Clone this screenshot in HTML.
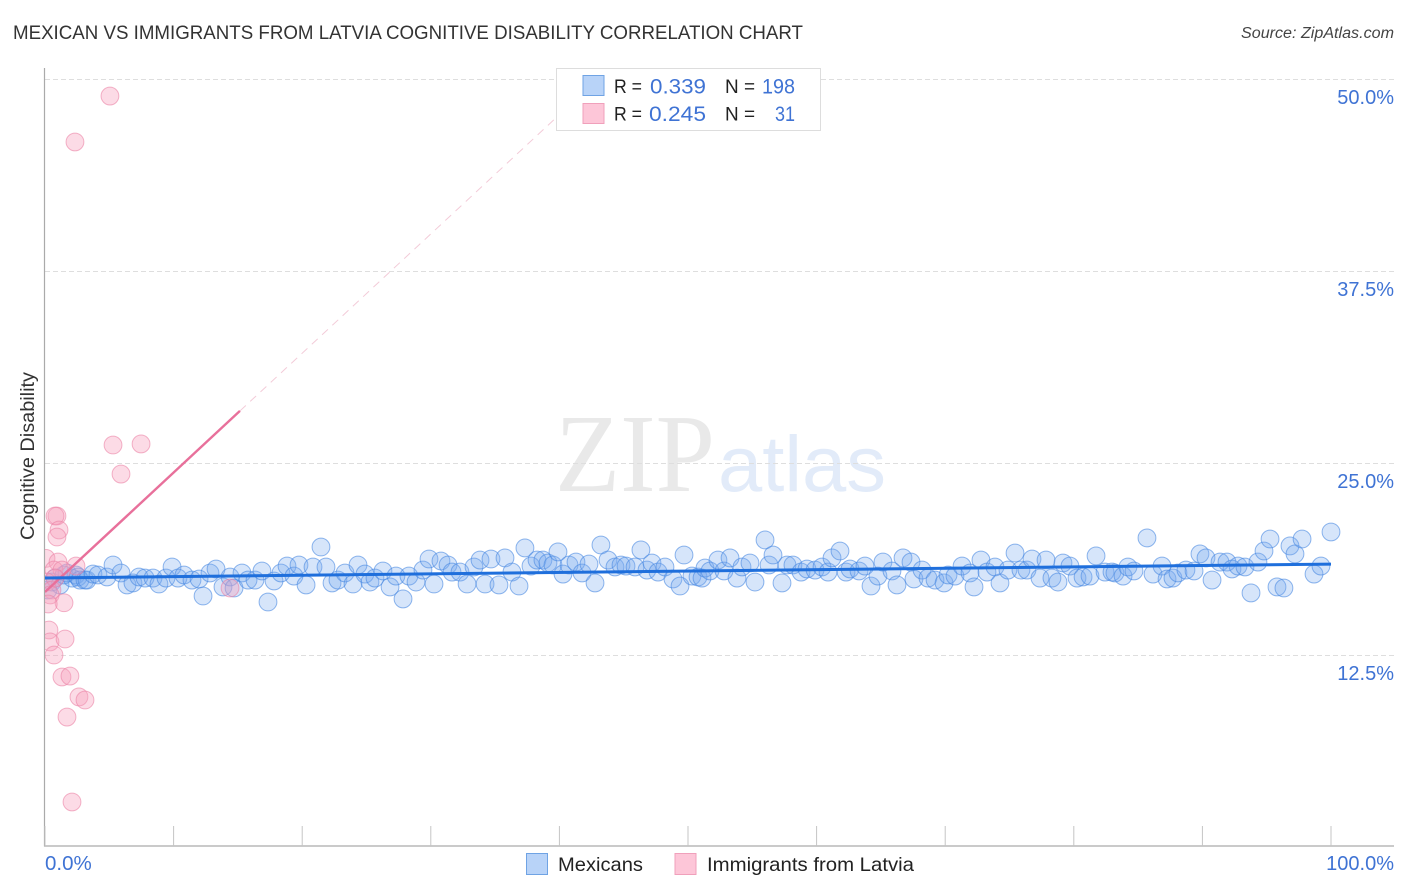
<!DOCTYPE html>
<html lang="en">
<head>
<meta charset="utf-8">
<title>Mexican vs Immigrants from Latvia Cognitive Disability Correlation Chart</title>
<style>
html,body{margin:0;padding:0;background:#fff;width:1406px;height:892px;overflow:hidden}
svg{display:block;font-family:"Liberation Sans",sans-serif}
</style>
</head>
<body>
<svg id="chart" width="1406" height="892" viewBox="0 0 1406 892" xmlns="http://www.w3.org/2000/svg">
  <defs>
    <clipPath id="plot-clip"><rect x="45" y="60" width="1350" height="786"/></clipPath>
  </defs>
  <rect width="1406" height="892" fill="#ffffff"/>
  <text x="13" y="39" font-size="19.5" fill="#333333" textLength="790" lengthAdjust="spacingAndGlyphs">MEXICAN VS IMMIGRANTS FROM LATVIA COGNITIVE DISABILITY CORRELATION CHART</text>
  <text x="1241" y="38" font-size="15.5" font-style="italic" fill="#444444" textLength="153" lengthAdjust="spacingAndGlyphs">Source: ZipAtlas.com</text>
  <text x="555" y="491" font-family="'Liberation Serif',serif" font-size="111" fill="#e9e9e9" textLength="160" lengthAdjust="spacingAndGlyphs">ZIP</text>
  <text x="718" y="491" font-size="79" fill="#e2ebf9" textLength="168" lengthAdjust="spacingAndGlyphs">atlas</text>
  <g id="grid"></g>
  <g id="axes"></g>
  <g clip-path="url(#plot-clip)">
    <g id="blue-points"></g>
    <g id="pink-points"></g>
    <g id="trends"></g>
  </g>
  <text x="-540" y="34" transform="rotate(-90)" font-size="19" fill="#333333" textLength="168" lengthAdjust="spacingAndGlyphs">Cognitive Disability</text>
  <g>
    <rect x="556.5" y="68.5" width="264" height="62" fill="#ffffff" stroke="#dddddd" stroke-width="1"/>
    <rect x="583" y="75.5" width="21" height="20" fill="#b8d3f8" stroke="#6fa3e4" stroke-width="1"/>
    <rect x="583" y="103.5" width="21" height="20" fill="#fdc6d8" stroke="#f0a0bb" stroke-width="1"/>
    <text x="614" y="93" font-size="19.5" fill="#222222" textLength="28" lengthAdjust="spacingAndGlyphs">R =</text>
    <text x="650" y="93.5" font-size="21.5" fill="#3f73d4" textLength="56" lengthAdjust="spacingAndGlyphs">0.339</text>
    <text x="725" y="93" font-size="19.5" fill="#222222" textLength="30" lengthAdjust="spacingAndGlyphs">N =</text>
    <text x="762" y="93.5" font-size="21.5" fill="#3f73d4" textLength="33" lengthAdjust="spacingAndGlyphs">198</text>
    <text x="614" y="120.5" font-size="19.5" fill="#222222" textLength="28" lengthAdjust="spacingAndGlyphs">R =</text>
    <text x="649" y="121" font-size="21.5" fill="#3f73d4" textLength="57" lengthAdjust="spacingAndGlyphs">0.245</text>
    <text x="725" y="120.5" font-size="19.5" fill="#222222" textLength="30" lengthAdjust="spacingAndGlyphs">N =</text>
    <text x="775" y="121" font-size="21.5" fill="#3f73d4" textLength="20" lengthAdjust="spacingAndGlyphs">31</text>
  </g>
  <g>
    <rect x="526.5" y="853.5" width="21" height="21" fill="#b8d3f8" stroke="#6fa3e4" stroke-width="1"/>
    <text x="558" y="871" font-size="19.5" fill="#222222" textLength="85" lengthAdjust="spacingAndGlyphs">Mexicans</text>
    <rect x="675" y="853.5" width="21" height="21" fill="#fdc6d8" stroke="#f0a0bb" stroke-width="1"/>
    <text x="707" y="871" font-size="19.5" fill="#222222" textLength="207" lengthAdjust="spacingAndGlyphs">Immigrants from Latvia</text>
  </g>
</svg>
<script>
const yTickValues = [12.5, 25, 37.5, 50];
const yTickLabels = ["12.5%", "25.0%", "37.5%", "50.0%"];
const xTickValues = [0, 10, 20, 30, 40, 50, 60, 70, 80, 90, 100];
const xEndLabels = ["0.0%", "100.0%"];

const mexicansX = [0.23,0.54,0.78,1.17,1.48,1.71,2.10,2.41,2.57,2.72,3.11,3.27,3.73,4.12,4.82,5.29,5.91,6.38,6.84,7.31,7.78,8.40,8.86,9.41,9.88,10.34,10.81,11.43,11.98,12.29,12.83,13.30,13.84,14.39,14.70,15.32,15.79,16.33,16.87,17.34,17.81,18.35,18.82,19.36,19.75,20.30,20.84,21.46,21.85,22.32,22.78,23.33,23.95,24.34,24.88,25.27,25.66,26.28,26.83,27.29,27.84,28.30,28.85,29.39,29.86,30.25,30.79,31.34,31.65,32.27,32.82,33.36,33.83,34.22,34.68,35.30,35.77,36.31,36.86,37.32,37.79,38.26,38.72,39.11,39.50,39.89,40.28,40.75,41.29,41.76,42.30,42.77,43.23,43.78,44.32,44.79,45.18,45.88,46.34,46.81,47.20,47.67,48.21,48.83,49.38,49.69,50.31,50.78,51.09,51.32,51.71,52.33,52.80,53.27,53.81,54.20,54.82,55.21,55.99,56.30,56.61,57.31,57.70,58.16,58.79,59.25,59.88,60.42,60.89,61.20,61.82,62.29,62.60,63.30,63.76,64.23,64.77,65.16,65.86,66.25,66.72,67.34,67.57,68.20,68.66,69.21,69.91,70.22,70.76,71.31,71.93,72.24,72.78,73.25,73.87,74.26,74.88,75.43,75.89,76.36,76.75,77.37,77.84,78.30,78.77,79.16,79.70,80.25,80.72,81.26,81.73,82.43,82.97,83.20,83.83,84.21,84.68,85.69,86.16,86.86,87.25,87.71,88.10,88.72,89.35,89.81,90.28,90.75,91.37,91.91,92.30,92.77,93.31,93.78,94.32,94.79,95.26,95.80,96.34,96.81,97.20,97.75,98.68,99.22,100];
const mexicansY = [16.73,17.25,17.51,17.06,17.71,17.84,17.51,17.71,17.58,17.38,17.38,17.38,17.77,17.71,17.58,18.36,17.84,17.06,17.19,17.58,17.51,17.51,17.12,17.51,18.23,17.51,17.71,17.38,17.45,16.34,17.84,18.10,16.93,17.58,16.86,17.84,17.38,17.38,17.97,15.95,17.32,17.84,18.29,17.64,18.36,17.06,18.23,19.53,18.23,17.19,17.38,17.84,17.12,18.36,17.77,17.25,17.51,17.97,16.93,17.64,16.15,17.64,17.25,18.03,18.75,17.12,18.62,18.36,17.90,17.90,17.12,18.23,18.68,17.12,18.75,17.06,18.82,17.90,16.99,19.47,18.29,18.68,18.68,18.49,18.36,19.21,17.77,18.36,18.55,17.84,18.42,17.19,19.66,18.68,18.23,18.36,18.29,18.23,19.34,18.03,18.49,17.90,18.23,17.45,16.99,19.01,17.64,17.58,17.51,18.16,17.97,18.68,17.97,18.82,17.51,18.23,18.49,17.25,19.99,18.36,19.01,17.19,18.36,18.36,17.90,18.10,18.03,18.23,17.90,18.82,19.27,17.90,18.10,17.97,18.29,16.99,17.64,18.55,17.97,17.06,18.82,18.55,17.45,18.03,17.51,17.38,17.19,17.71,17.64,18.29,17.84,16.93,18.68,17.90,18.23,17.19,18.03,19.14,18.03,18.03,18.75,17.51,18.68,17.51,17.25,18.49,18.29,17.51,17.58,17.64,18.95,17.90,17.90,17.84,17.64,18.23,17.97,20.12,17.77,18.29,17.45,17.51,17.84,18.03,17.97,19.08,18.82,17.38,18.55,18.55,18.10,18.29,18.23,16.54,18.55,19.27,20.05,16.93,16.86,19.60,19.08,20.05,17.77,18.29,20.51];

const latviaX = [5.05,2.33,5.29,7.47,5.91,0.93,0.78,1.09,0.93,0.08,1.01,0.70,2.41,1.32,0.78,0.15,0.54,0.40,1.48,0.25,0.31,0.39,1.56,0.70,1.32,1.94,2.64,3.11,1.71,2.10,14.39];
const latviaY = [48.89,45.90,26.17,26.24,24.28,21.55,21.55,20.64,20.18,18.79,18.55,18.03,18.29,18.03,17.51,17.25,16.73,16.41,15.90,15.82,14.13,13.35,13.54,12.50,11.07,11.13,9.77,9.57,8.46,2.93,16.86];

const mexicansTrendX = [0, 100];
const mexicansTrendY = [17.51, 18.42];
const latviaSolidX = [0, 15.16];
const latviaSolidY = [16.60, 28.39];
const latviaDashX = [15.16, 42.4];
const latviaDashY = [28.39, 49.54];

const NS = "http://www.w3.org/2000/svg";
function xScale(v) { return 45 + v * 12.86; }
function yScale(v) { return 847 - v * 15.36; }
function make(tag, attrs, parentId) {
  const el = document.createElementNS(NS, tag);
  for (const k in attrs) el.setAttribute(k, attrs[k]);
  document.getElementById(parentId).appendChild(el);
  return el;
}

yTickValues.forEach(function (v, i) {
  const line = make("line", {x1: 45, x2: 1394, y1: yScale(v) + 0.5, y2: yScale(v) + 0.5, stroke: "#dedede", "stroke-width": 1, "stroke-dasharray": "5 3"}, "grid");
  
  
  const label = make("text", {x: 1394, y: yScale(v) + 25, "font-size": 20, fill: "#3f73d4", "text-anchor": "end"}, "axes");
  label.textContent = yTickLabels[i];
  
  
});

const yAxis = make("line", {x1: 44.5, x2: 44.5, y1: 68, y2: 846.5, stroke: "#aaaaaa", "stroke-width": 1.2}, "axes");


const xAxis = make("line", {x1: 44, x2: 1394, y1: 846, y2: 846, stroke: "#aaaaaa", "stroke-width": 1.2}, "axes");



xTickValues.forEach(function (v) {
  const tick = make("line", {x1: xScale(v), x2: xScale(v), y1: 826, y2: 846, stroke: "#c4c4c4", "stroke-width": 1}, "axes");
  
  
});

const xLabelLeft = make("text", {x: 45, y: 870, "font-size": 20.5, fill: "#3f73d4"}, "axes");
xLabelLeft.textContent = xEndLabels[0];


const xLabelRight = make("text", {x: 1394, y: 870, "font-size": 20, fill: "#3f73d4", "text-anchor": "end"}, "axes");
xLabelRight.textContent = xEndLabels[1];



mexicansX.forEach(function (v, i) {
  const c = make("circle", {cx: xScale(v), cy: yScale(mexicansY[i]), r: 8.9, fill: "rgba(120,170,240,0.3)", stroke: "rgba(70,135,225,0.6)", "stroke-width": 1}, "blue-points");
  
  
});

latviaX.forEach(function (v, i) {
  const c = make("circle", {cx: xScale(v), cy: yScale(latviaY[i]), r: 8.9, fill: "rgba(248,160,190,0.38)", stroke: "rgba(235,130,165,0.6)", "stroke-width": 1}, "pink-points");
  
  
});

const dashTrend = make("line", {x1: xScale(latviaDashX[0]), y1: yScale(latviaDashY[0]), x2: xScale(latviaDashX[1]), y2: yScale(latviaDashY[1]), stroke: "#f3cbd8", "stroke-width": 1, "stroke-dasharray": "8 6"}, "trends");


const pinkTrend = make("line", {x1: xScale(latviaSolidX[0]), y1: yScale(latviaSolidY[0]), x2: xScale(latviaSolidX[1]), y2: yScale(latviaSolidY[1]), stroke: "#e8709b", "stroke-width": 2.4}, "trends");


const blueTrend = make("line", {x1: xScale(mexicansTrendX[0]), y1: yScale(mexicansTrendY[0]), x2: xScale(mexicansTrendX[1]), y2: yScale(mexicansTrendY[1]), stroke: "#1f6fdc", "stroke-width": 3}, "trends");


</script>
</body>
</html>
